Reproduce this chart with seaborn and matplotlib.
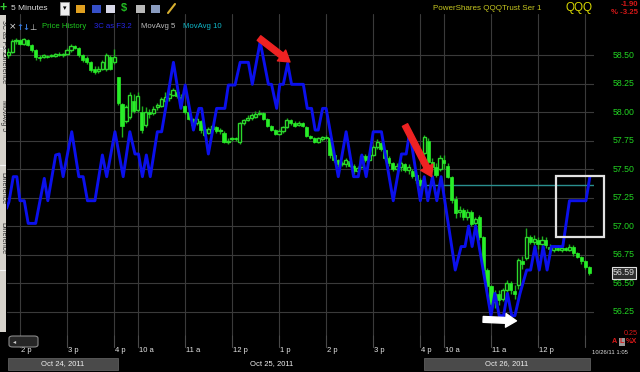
import matplotlib
matplotlib.use("Agg")
import matplotlib.pyplot as plt
import matplotlib.transforms as mtrans
from matplotlib.patches import Rectangle, FancyBboxPatch
import numpy as np
import pandas as pd
import seaborn as sns

# ---------------- data ----------------
tick_bars = [3, 15, 27, 33, 45, 57, 69, 81, 93, 105, 111, 123, 135, 147]
tick_labels = ['2 p', '3 p', '4 p', '10 a', '11 a', '12 p', '1 p', '2 p', '3 p',
               '4 p', '10 a', '11 a', '12 p', '']
day_labels = ['Oct 24, 2011', 'Oct 25, 2011', 'Oct 26, 2011']
day_first_bar = [0, 28, 106]
day_last_bar = [27, 105, 148]
price_ticks = [56.25, 56.50, 56.75, 57.00, 57.25, 57.50, 57.75, 58.00, 58.25, 58.50]

opens = [58.50, 58.53, 58.62, 58.63, 58.60, 58.63, 58.59, 58.54, 58.48, 58.48, 58.49, 58.49, 58.49, 58.51,
         58.50, 58.51, 58.54, 58.58, 58.56, 58.50, 58.47, 58.44, 58.38, 58.36, 58.38, 58.38, 58.48, 58.44,
         58.31, 58.07, 57.92, 57.96, 58.10, 58.02, 58.00, 57.89, 58.00, 57.99,
         58.04, 58.05, 58.10, 58.12, 58.15, 58.18, 58.13, 58.05, 58.00, 57.94,
         57.90, 57.92, 57.85, 57.82, 57.85, 57.87, 57.83, 57.82, 57.74, 57.76,
         57.77, 57.74, 57.90, 57.93, 57.95, 57.96, 57.98, 57.99, 57.94, 57.88,
         57.84, 57.81, 57.83, 57.87, 57.93, 57.90, 57.89, 57.90, 57.87, 57.79,
         57.77, 57.74, 57.76, 57.78, 57.77, 57.62, 57.58, 57.54, 57.54, 57.57,
         57.53, 57.48, 57.52, 57.61, 57.58, 57.62, 57.69, 57.73, 57.67, 57.60,
         57.55, 57.50, 57.52, 57.54, 57.49, 57.48, 57.45, 57.40,
         57.64, 57.75, 57.56, 57.52, 57.50, 57.58, 57.53, 57.43, 57.24, 57.12, 57.14, 57.08, 57.12, 57.03,
         57.08, 56.90, 56.61, 56.47, 56.33, 56.40, 56.36, 56.44, 56.50, 56.43, 56.48, 56.69, 56.72, 56.90,
         56.86, 56.88, 56.84, 56.88, 56.82, 56.79, 56.81, 56.79, 56.81, 56.79, 56.82, 56.76, 56.73, 56.69,
         56.64]
closes = [58.53, 58.62, 58.63, 58.60, 58.64, 58.59, 58.54, 58.48, 58.47, 58.50, 58.48, 58.50, 58.51, 58.50,
          58.51, 58.54, 58.58, 58.56, 58.50, 58.46, 58.44, 58.37, 58.35, 58.38, 58.44, 58.50, 58.38, 58.48,
          58.08, 57.88, 58.04, 58.15, 58.01, 58.14, 57.84, 58.00, 57.98, 58.03,
          58.06, 58.11, 58.13, 58.16, 58.19, 58.14, 58.06, 58.00, 57.94, 57.89,
          57.94, 57.84, 57.80, 57.85, 57.88, 57.83, 57.84, 57.74, 57.75, 57.77,
          57.76, 57.90, 57.93, 57.95, 57.97, 57.98, 57.99, 57.94, 57.88, 57.84,
          57.81, 57.83, 57.87, 57.93, 57.90, 57.88, 57.90, 57.88, 57.79, 57.77,
          57.74, 57.77, 57.78, 57.77, 57.62, 57.58, 57.54, 57.55, 57.58, 57.53,
          57.48, 57.51, 57.61, 57.58, 57.62, 57.69, 57.74, 57.68, 57.60, 57.55,
          57.50, 57.53, 57.55, 57.49, 57.52, 57.44, 57.40, 57.36,
          57.78, 57.56, 57.52, 57.45, 57.60, 57.55, 57.43, 57.23, 57.11, 57.14, 57.08, 57.12, 57.02, 57.06,
          56.90, 56.61, 56.47, 56.32, 56.40, 56.35, 56.44, 56.50, 56.44, 56.40, 56.70, 56.67, 56.90, 56.86,
          56.89, 56.84, 56.88, 56.83, 56.80, 56.82, 56.79, 56.81, 56.79, 56.82, 56.76, 56.73, 56.69, 56.64,
          56.59]
highs = [58.56, 58.64, 58.65, 58.64, 58.65, 58.64, 58.60, 58.55, 58.50, 58.51, 58.50, 58.51, 58.52, 58.53,
         58.52, 58.56, 58.60, 58.59, 58.57, 58.51, 58.49, 58.45, 58.40, 58.40, 58.46, 58.52, 58.50, 58.55,
         58.31, 58.08, 58.06, 58.18, 58.16, 58.18, 58.05, 58.04, 58.03, 58.05,
         58.08, 58.13, 58.18, 58.20, 58.21, 58.19, 58.16, 58.06, 58.01, 57.95,
         57.96, 57.93, 57.86, 57.87, 57.89, 57.88, 57.86, 57.83, 57.77, 57.78,
         57.78, 57.91, 57.94, 57.97, 57.99, 58.01, 58.02, 58.00, 57.95, 57.89,
         57.85, 57.85, 57.88, 57.95, 57.94, 57.92, 57.92, 57.91, 57.88, 57.80,
         57.78, 57.78, 57.79, 57.80, 57.78, 57.64, 57.59, 57.57, 57.60, 57.58,
         57.54, 57.53, 57.63, 57.63, 57.64, 57.71, 57.76, 57.74, 57.68, 57.61,
         57.56, 57.55, 57.57, 57.55, 57.54, 57.50, 57.46, 57.42,
         57.80, 57.77, 57.60, 57.55, 57.62, 57.62, 57.55, 57.44, 57.26, 57.18, 57.16, 57.15, 57.14, 57.08,
         57.10, 56.91, 56.63, 56.48, 56.44, 56.44, 56.46, 56.53, 56.52, 56.48, 56.72, 56.74, 56.98, 56.92,
         56.92, 56.90, 56.91, 56.90, 56.84, 56.83, 56.83, 56.84, 56.82, 56.84, 56.83, 56.77, 56.74, 56.70,
         56.65]
lows = [58.47, 58.52, 58.60, 58.59, 58.59, 58.58, 58.53, 58.46, 58.45, 58.47, 58.47, 58.48, 58.48, 58.49,
        58.48, 58.50, 58.53, 58.55, 58.48, 58.44, 58.42, 58.35, 58.33, 58.34, 58.37, 58.36, 58.37, 58.42,
        58.06, 57.78, 57.90, 57.94, 57.99, 58.00, 57.82, 57.87, 57.95, 57.97,
        58.02, 58.04, 58.09, 58.10, 58.14, 58.12, 58.04, 57.98, 57.93, 57.88,
        57.89, 57.82, 57.79, 57.81, 57.84, 57.82, 57.81, 57.73, 57.72, 57.75,
        57.75, 57.72, 57.89, 57.92, 57.93, 57.95, 57.97, 57.93, 57.87, 57.83,
        57.80, 57.80, 57.82, 57.86, 57.89, 57.87, 57.88, 57.87, 57.78, 57.76,
        57.73, 57.73, 57.75, 57.76, 57.60, 57.56, 57.52, 57.53, 57.52, 57.52,
        57.46, 57.47, 57.51, 57.56, 57.57, 57.61, 57.68, 57.66, 57.58, 57.53,
        57.48, 57.49, 57.48, 57.47, 57.46, 57.42, 57.38, 57.35,
        57.62, 57.54, 57.48, 57.43, 57.48, 57.50, 57.42, 57.20, 57.07, 57.08, 57.05, 57.05, 57.00, 57.01,
        56.88, 56.58, 56.44, 56.26, 56.28, 56.31, 56.34, 56.40, 56.40, 56.36, 56.45, 56.62, 56.70, 56.84,
        56.83, 56.80, 56.82, 56.81, 56.78, 56.77, 56.78, 56.77, 56.78, 56.78, 56.74, 56.72, 56.67, 56.62,
        56.57]

# 3C indicator (drawn on the price scale, as in the chart)
c3_bar = [-0.4, 0.2, 1.3, 2.2, 3.0, 4.1, 5.1, 7.0, 9.2, 10.1, 12.1, 13.0, 14.0, 16.2, 18.0, 19.1, 20.2,
          22.1, 24.0, 25.1, 27.2, 29.3, 31.0, 32.3, 33.2, 34.2, 35.2, 36.2, 38.0, 39.1, 42.1, 44.0, 45.1,
          47.2, 48.6, 49.3, 51.0, 53.1, 55.2, 56.1, 57.8, 59.1, 61.2, 62.2, 64.2, 66.3, 67.1, 68.4, 69.2,
          70.1, 71.2, 72.2, 75.2, 76.2, 77.3, 78.2, 79.0, 80.1, 81.0, 84.1, 86.1, 88.0, 89.2, 90.1, 91.2,
          93.0, 95.1, 98.1, 100.2, 101.4, 102.3, 105.0, 106.0, 106.9, 108.1, 109.2, 110.3, 113.9, 115.4,
          116.4, 117.3, 118.2, 119.1, 123.0, 124.0, 125.1, 126.2, 127.2, 128.3, 129.1, 130.4, 132.1, 133.1,
          134.2, 135.3, 136.3, 137.3, 138.4, 141.3, 143.0, 147.2, 148.2]
c3_val = [57.155, 57.213, 57.433, 57.433, 57.222, 57.222, 57.023, 57.023, 57.418, 57.222, 57.623, 57.632,
          57.433, 57.827, 57.433, 57.433, 57.222, 57.222, 57.623, 57.433, 57.827, 57.433, 57.827, 57.632,
          57.632, 57.433, 57.623, 57.433, 57.827, 57.827, 58.436, 58.032, 58.237, 57.842, 58.032, 58.032,
          57.632, 58.032, 58.032, 58.237, 58.237, 58.436, 58.436, 58.243, 58.617, 58.243, 58.243, 58.032,
          58.243, 58.243, 58.427, 58.243, 58.243, 58.032, 58.032, 57.842, 57.842, 58.032, 58.032, 57.433,
          57.827, 57.433, 57.433, 57.623, 57.433, 57.827, 57.827, 57.222, 57.632, 57.632, 57.827, 57.222,
          57.433, 57.222, 57.433, 57.222, 57.433, 56.614, 56.820, 56.820, 57.000, 56.820, 57.000, 56.213,
          56.409, 56.213, 56.213, 56.409, 56.213, 56.213, 56.409, 56.614, 56.614, 56.820, 56.614, 56.820,
          56.614, 56.820, 56.820, 57.222, 57.222, 57.433]

last_price = 56.59
net_change = '-1.90'
pct_change = '% -3.25'

assert len(opens) == len(closes) == len(highs) == len(lows) == 149, (len(opens), len(closes), len(highs), len(lows))
assert len(c3_bar) == len(c3_val), (len(c3_bar), len(c3_val))

# ---------------- style ----------------
sns.set_theme(style="dark")
plt.rcParams['font.family'] = ['Liberation Sans', 'DejaVu Sans']

W, H = 640, 372
fig = plt.figure(figsize=(W / 100, H / 100), dpi=100, facecolor='black')


def fx(px):
    return px / W


def fy(py):
    return 1 - py / H


AX_L, AX_R, AX_T, AX_B = 7, 594, 14, 335
ax = fig.add_axes([fx(AX_L), fy(AX_B), (AX_R - AX_L) / W, (AX_B - AX_T) / H])
ax.set_facecolor('black')
for s in ax.spines.values():
    s.set_visible(False)

grid_c = '#3a3a3a'
for p in price_ticks:
    ax.axhline(p, color=grid_c, lw=0.8, zorder=0)
for t in tick_bars:
    ax.axvline(t, color=grid_c, lw=0.8, zorder=0)

# previous close reference line (teal)
prev_close = closes[day_last_bar[1]]
ax.hlines(prev_close, day_last_bar[1] - 0.5, 150, color='#2a8f8f', lw=1.0, zorder=1)

# candles
df = pd.DataFrame({'o': opens, 'h': highs, 'l': lows, 'c': closes})
df['bar'] = np.arange(len(df))
up = df['c'] > df['o']
ax.vlines(df['bar'], df['l'], df['h'], color='#1fb01f', lw=1.0, zorder=2)
body_lo = np.minimum(df['o'], df['c'])
body_h = np.maximum(np.abs(df['c'] - df['o']), 0.009)
ax.bar(df['bar'][~up], body_h[~up], bottom=body_lo[~up], width=0.8,
       color='#28ee28', edgecolor='#28ee28', lw=0.5, zorder=3)
ax.bar(df['bar'][up], body_h[up], bottom=body_lo[up], width=0.8,
       color='black', edgecolor='#2cd82c', lw=1.0, zorder=3)

# 3C line
c3 = pd.DataFrame({'bar': c3_bar, 'val': c3_val})
sns.lineplot(data=c3, x='bar', y='val', ax=ax, color='#0b10ec', lw=2.1,
             sort=False, estimator=None, zorder=5, solid_joinstyle='round')

ax.set_xlim(-0.3, 149.25)
ax.set_ylim(56.044, 58.86)
ax.set_xticks([])
ax.set_yticks([])
ax.set_xlabel('')
ax.set_ylabel('')

# annotations: red arrows, white arrow, white box
red = '#ee2222'
aprops = dict(arrowstyle='simple,head_length=0.55,head_width=0.7,tail_width=0.3',
              mutation_scale=14, shrinkA=0, shrinkB=0)
ax.annotate('', xy=(71.8, 58.439), xytext=(63.9, 58.649),
            arrowprops=dict(color=red, **aprops), zorder=7, annotation_clip=False)
ax.annotate('', xy=(107.9, 57.433), xytext=(101.1, 57.886),
            arrowprops=dict(color=red, **aprops), zorder=7, annotation_clip=False)
ax.annotate('', xy=(129.5, 56.168), xytext=(121.0, 56.181),
            arrowprops=dict(color='white', **aprops), zorder=7, annotation_clip=False)
ax.add_patch(Rectangle((139.6, 56.904), 12.2, 0.535, fill=False, ec='#e2e2e2',
                       lw=1.6, zorder=7, clip_on=False))

# x tick marks and labels
bt = mtrans.blended_transform_factory(ax.transData, ax.transAxes)
hgt = AX_B - AX_T
for t, lab in zip(tick_bars, tick_labels):
    ax.plot([t, t], [0, -12 / hgt], transform=bt, color='#4a4a4a', lw=0.8, clip_on=False)
    if lab:
        ax.text(t + 0.3, -16 / hgt, lab, transform=bt, ha='left', va='center',
                color='#e6e6e6', fontsize=5.5, clip_on=False)

# right price axis
rt = mtrans.blended_transform_factory(ax.transAxes, ax.transData)
xr = (613 - AX_L) / (AX_R - AX_L)
for p in price_ticks:
    ax.text(xr, p, f'{p:.2f}', transform=rt, ha='left', va='center',
            color='#22d422', fontsize=6.3, clip_on=False)
ax.text(xr, last_price, f'{last_price:.2f}', transform=rt, ha='left', va='center',
        color='#e0e0e0', fontsize=6.3, clip_on=False, zorder=8,
        bbox=dict(boxstyle='square,pad=0.15', fc='#2e2e2e', ec='#e0e0e0', lw=0.8))

# ---------------- header ----------------
fig.text(fx(0), fy(8), '+', color='#33cc33', fontsize=9, fontweight='bold', va='center')
fig.text(fx(11), fy(8), '5 Minutes', color='#dcdcdc', fontsize=6, va='center')
fig.patches.append(Rectangle((fx(60), fy(15)), 9 / W, 13 / H, transform=fig.transFigure,
                             fc='#eeeeee', ec='#999999', lw=0.6))
fig.text(fx(64.5), fy(8.5), '▾', color='black', fontsize=5, ha='center', va='center',
         family=['DejaVu Sans'])
icons = [(76, '#e0a020'), (92, '#3650c8'), (106, '#d8d8e8'), (136, '#b8b8b8'), (151, '#8a9cc0')]
for x0, col in icons:
    fig.patches.append(Rectangle((fx(x0), fy(13)), 9 / W, 8 / H, transform=fig.transFigure,
                                 fc=col, ec='none'))
fig.text(fx(124), fy(8), '$', color='#22bb22', fontsize=8, fontweight='bold', ha='center', va='center')
fig.lines.append(plt.Line2D([fx(168), fx(175)], [fy(13), fy(4)], transform=fig.transFigure,
                            color='#d8b030', lw=1.5))

fig.text(fx(9), fy(27), '×', color='#e0e0e0', fontsize=6.5, va='center', family=['DejaVu Sans'])
fig.text(fx(16), fy(27), '↑', color='#3a7ad8', fontsize=6, fontweight='bold', va='center', family=['DejaVu Sans'])
fig.text(fx(22), fy(27), '↓', color='#3a7ad8', fontsize=6, fontweight='bold', va='center', family=['DejaVu Sans'])
fig.text(fx(29), fy(27), '⊥', color='#cccccc', fontsize=6, va='center', family=['DejaVu Sans'])
fig.text(fx(42), fy(27), 'Price History', color='#1ec81e', fontsize=5.6, va='center')
fig.text(fx(94), fy(27), '3C as F3.2', color='#2626e8', fontsize=5.6, va='center')
fig.text(fx(141), fy(27), 'MovAvg 5', color='#bdbdbd', fontsize=5.6, va='center')
fig.text(fx(183), fy(27), 'MovAvg 10', color='#10b8c8', fontsize=5.6, va='center')

fig.text(fx(433), fy(8), 'PowerShares QQQTrust Ser 1', color='#c8c820', fontsize=5.8, va='center')
fig.text(fx(566), fy(8), 'QQQ', color='#d8d800', fontsize=8.5, va='center')
fig.text(fx(638), fy(4), net_change, color='#d81818', fontsize=5.6, ha='right', va='center', fontweight='bold')
fig.text(fx(638), fy(12.5), pct_change, color='#d81818', fontsize=5.6, ha='right', va='center', fontweight='bold')

# bottom right
fig.text(fx(638), fy(333.5), '0.25', color='#d81818', fontsize=5.2, ha='right', va='center')
fig.text(fx(612), fy(341.5), 'A', color='#d81818', fontsize=5.2, ha='left', va='center', fontweight='bold')
fig.patches.append(Rectangle((fx(618.5), fy(345.5)), 6 / W, 8 / H, transform=fig.transFigure,
                             fc='#9a9a9a', ec='none'))
fig.text(fx(619.5), fy(341.5), 'L', color='#d81818', fontsize=5.2, ha='left', va='center', fontweight='bold')
fig.text(fx(626), fy(341.5), '%X', color='#d81818', fontsize=5.2, ha='left', va='center', fontweight='bold')
fig.text(fx(592), fy(353), '10/26/11 1:05', color='#e0e0e0', fontsize=4.2, ha='left', va='center')

# scrollbar thumb
fig.patches.append(FancyBboxPatch((fx(9), fy(347)), 29 / W, 11 / H, transform=fig.transFigure,
                                  boxstyle='round,pad=0,rounding_size=0.006',
                                  fc='#262626', ec='#8a8a8a', lw=0.8))
fig.text(fx(13), fy(341.5), '◂', color='#cfcfcf', fontsize=4.5, va='center', family=['DejaVu Sans'])

# date row
date_boxes = [(8, 118), None, (424, 590)]
date_centers = [63, 272, 507]
for lab, box, cx in zip(day_labels, date_boxes, date_centers):
    if box:
        fig.patches.append(Rectangle((fx(box[0]), fy(370)), (box[1] - box[0]) / W, 12 / H,
                                     transform=fig.transFigure, fc='#4a4a4a', ec='#5e5e5e', lw=0.6))
    fig.text(fx(cx), fy(364), lab, color='#f0f0f0', fontsize=5.5, ha='center', va='center')

# left side tab strip
axs = fig.add_axes([0, fy(332), 6 / W, (332 - 15) / H])
axs.set_facecolor('#d6d3cc')
axs.set_xticks([])
axs.set_yticks([])
for s in axs.spines.values():
    s.set_visible(False)
axs.set_xlim(0, 1)
axs.set_ylim(332, 15)
for y0, lab in [(20, '3C as F3.2'), (52, 'Difference'), (100, 'MovAvg 5'),
                (172, 'Difference'), (222, 'Difference')]:
    axs.text(0.55, y0, lab, rotation=270, color='#303030', fontsize=5, ha='center', va='top', clip_on=True)
for yb in [48, 165, 270]:
    axs.axhline(yb, color='#f4f4f4', lw=0.8)

fig.savefig('out.png', dpi=100, facecolor='black')
